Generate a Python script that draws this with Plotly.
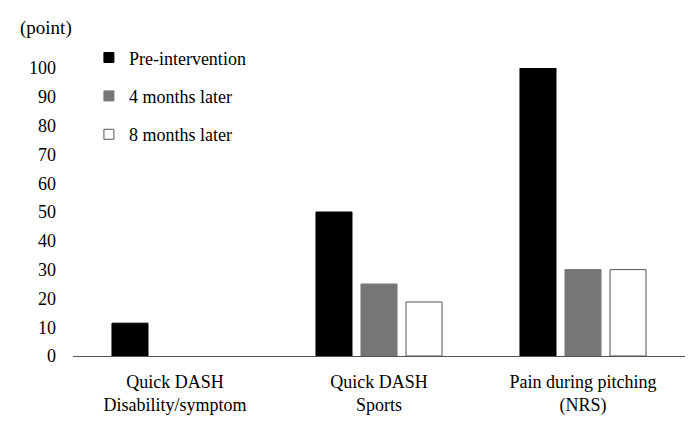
import plotly.graph_objects as go

categories = ["Quick DASH<br>Disability/symptom", "Quick DASH<br>Sports", "Pain during pitching<br>(NRS)"]
pre_intervention = [11.4, 50, 100]
months_4_later = [0, 25, 30]
months_8_later = [0, 18.75, 30]

series_names = ["Pre-intervention", "4 months later", "8 months later"]
fill_colors = ["#000000", "#767676", "#ffffff"]
line_colors = ["#000000", "#767676", "#555555"]

fig = go.Figure()

for i, vals in enumerate([pre_intervention, months_4_later, months_8_later]):
    # no outline on empty bars, so a zero value draws nothing
    widths = [0 if v == 0 else 1 for v in vals]
    fig.add_trace(go.Bar(
        x=categories, y=vals,
        name=series_names[i],
        marker=dict(color=fill_colors[i], line=dict(color=line_colors[i], width=widths)),
        showlegend=False,
    ))
    # small square legend entries
    fig.add_trace(go.Scatter(
        x=[None], y=[None], mode="markers",
        name=series_names[i],
        marker=dict(symbol="square", size=10, color=fill_colors[i],
                    line=dict(color=line_colors[i], width=1)),
        legendgroup=str(i),
    ))

fig.update_layout(
    width=696, height=433,
    margin=dict(l=65, r=19, t=60, b=85),
    plot_bgcolor="white", paper_bgcolor="white",
    font=dict(family="Liberation Serif", size=18, color="black"),
    barmode="group", bargap=0.338, bargroupgap=0.2,
    legend=dict(x=0.026, y=1.0997, xanchor="left", yanchor="top",
                traceorder="grouped", tracegroupgap=12,
                font=dict(size=18), bgcolor="rgba(0,0,0,0)"),
    showlegend=True,
)

fig.update_xaxes(showline=True, linecolor="#555555", linewidth=1, ticks="", showgrid=False,
                 ticklabelstandoff=9, automargin=False)
fig.update_yaxes(range=[0, 100], dtick=10, showgrid=False, zeroline=False, showline=False, ticks="",
                 ticklabelstandoff=16, automargin=False)

fig.add_annotation(text="(point)", xref="paper", yref="paper", x=-0.0899, y=1.139,
                   xanchor="left", yanchor="middle", showarrow=False, font=dict(size=19))

fig.write_html("out.html")
